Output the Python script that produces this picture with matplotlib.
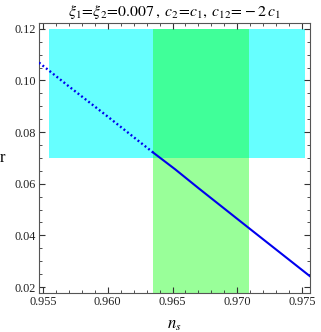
import matplotlib
matplotlib.use("Agg")
import matplotlib.pyplot as plt
from matplotlib.ticker import MultipleLocator

# curve (ns, r)
ns_curve = [0.9547, 0.9570, 0.9600, 0.9635, 0.9652, 0.9670, 0.9709, 0.9756]
r_curve = [0.1069, 0.0977, 0.0860, 0.0721, 0.0656, 0.0583, 0.0428, 0.0242]
split = 4  # dotted look up to here, solid after

# observational bands
ns_band = [0.9555, 0.9752]   # cyan: x range
r_band = [0.07, 0.12]        # cyan: y range
ns_green = [0.9635, 0.9709]  # green: x range
r_green_top = 0.12

plt.rcParams['mathtext.fontset'] = 'stix'
plt.rcParams['font.family'] = 'Liberation Serif'

fig = plt.figure(figsize=(3.21, 3.32), dpi=100)
ax = fig.add_axes([0.1215, 0.1175, 0.844, 0.813])

ax.set_xlim(0.9547, 0.9756)
ax.set_ylim(0.0177, 0.1222)

ax.fill_between(ns_band, r_band[0], r_band[1], color='#66ffff', lw=0, zorder=1)
ax.fill_between(ns_green, 0.0, r_green_top, color='#99ff99', lw=0, zorder=1)
ax.fill_between(ns_green, r_band[0], r_green_top, color='#40ff99', lw=0, zorder=1)

ax.plot(ns_curve[:split], r_curve[:split], color='#0000ee', lw=1.7,
        linestyle=(0, (0.8, 1.1)), zorder=3)
ax.plot(ns_curve[split - 1:], r_curve[split - 1:], color='#0000ee', lw=1.5, zorder=3)

ax.xaxis.set_major_locator(MultipleLocator(0.005))
ax.xaxis.set_minor_locator(MultipleLocator(0.001))
ax.yaxis.set_major_locator(MultipleLocator(0.02))
ax.yaxis.set_minor_locator(MultipleLocator(0.005))
ax.tick_params(which='both', direction='in', top=True, right=True,
               labelsize=8.8, colors='#333333', labelcolor='#222222', pad=2)
ax.tick_params(which='major', length=4, width=0.8)
ax.tick_params(which='minor', length=2, width=0.6)
for s in ax.spines.values():
    s.set_color('#555555')
ax.xaxis.set_major_formatter(matplotlib.ticker.FormatStrFormatter('%.3f'))
ax.yaxis.set_major_formatter(matplotlib.ticker.FormatStrFormatter('%.2f'))

ax.set_xlabel(r'$n_s$', fontsize=12, labelpad=7)
ax.set_ylabel('r', fontsize=12, rotation=0, labelpad=9, va='center')
ax.set_title(r'$\xi_1\!=\!\xi_2\!=\!0.007\,,\;c_2\!=\!c_1,\;c_{12}\!=\!-2\,c_1$',
             fontsize=11.3, pad=5)

fig.savefig('out.png', dpi=100)
